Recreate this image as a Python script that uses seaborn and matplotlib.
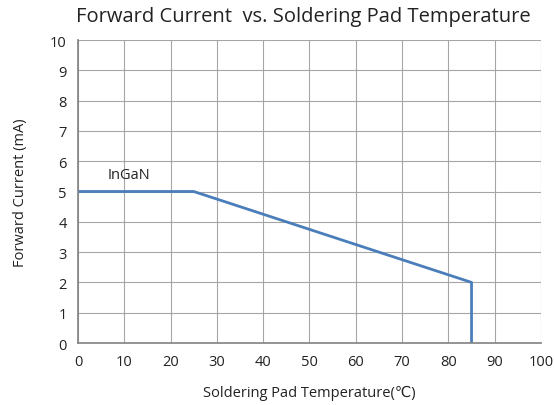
import matplotlib
matplotlib.use("Agg")
import matplotlib.pyplot as plt
import seaborn as sns
import pandas as pd

temperature = [0, 25, 85, 85]
current = [5, 5, 2, 0]
x_ticks = [0, 10, 20, 30, 40, 50, 60, 70, 80, 90, 100]
y_ticks = [0, 1, 2, 3, 4, 5, 6, 7, 8, 9, 10]
series_label = "InGaN"

sns.set_theme(style="white")
plt.rcParams['font.family'] = ['Open Sans', 'DejaVu Sans']

df = pd.DataFrame({"T": temperature, "I": current})

fig = plt.figure(figsize=(5.54, 4.06), dpi=100)
ax = fig.add_axes([0.1408, 0.1527, 0.8357, 0.7463])

sns.lineplot(data=df, x="T", y="I", sort=False, ax=ax, color="#4a7ebb", linewidth=2.0, estimator=None)

ax.set_xlim(0, 100)
ax.set_ylim(0, 10)
ax.set_xticks(x_ticks)
ax.set_yticks(y_ticks)
ax.grid(True, color="#a6a6a6", linewidth=0.8)
for s in ax.spines.values():
    s.set_visible(False)
ax.spines['left'].set_visible(True)
ax.spines['bottom'].set_visible(True)
ax.spines['left'].set_color("#868686")
ax.spines['bottom'].set_color("#868686")
ax.tick_params(axis='both', which='major', direction='out', length=4, width=0.8, color="#868686",
               labelsize=10.5, labelcolor="#222222", pad=4)
ax.set_xlabel("Soldering Pad Temperature(℃)", fontsize=10.5, color="#222222", labelpad=11)
ax.set_ylabel("Forward Current (mA)", fontsize=10.5, color="#222222", labelpad=16)
ax.text(6.5, 5.55, series_label, fontsize=10.5, color="#222222", ha="left", va="center")
fig.text(0.547, 0.957, "Forward Current  vs. Soldering Pad Temperature", ha="center", va="center",
         fontsize=14.5, color="#222222")

fig.savefig("out.png", dpi=100)
